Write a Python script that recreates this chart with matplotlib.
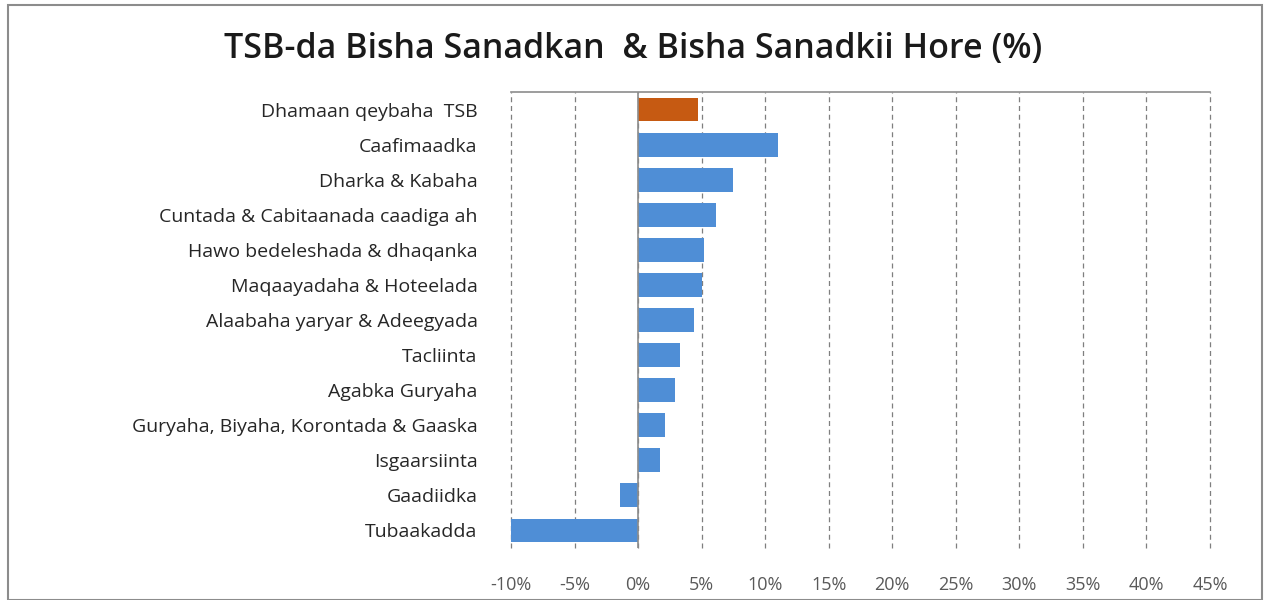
import numpy as np
import matplotlib.pyplot as plt
from matplotlib.patches import Rectangle
from matplotlib.ticker import FuncFormatter

plt.rcParams['font.family'] = ['Open Sans', 'DejaVu Sans']

categories = [
    'Dhamaan qeybaha  TSB',
    'Caafimaadka',
    'Dharka & Kabaha',
    'Cuntada & Cabitaanada caadiga ah',
    'Hawo bedeleshada & dhaqanka',
    'Maqaayadaha & Hoteelada',
    'Alaabaha yaryar & Adeegyada',
    'Tacliinta',
    'Agabka Guryaha',
    'Guryaha, Biyaha, Korontada & Gaaska',
    'Isgaarsiinta',
    'Gaadiidka',
    'Tubaakadda',
]
values = [4.7, 11.0, 7.5, 6.1, 5.2, 5.0, 4.4, 3.3, 2.9, 2.1, 1.7, -1.4, -10.0]
x_ticks = [-10, -5, 0, 5, 10, 15, 20, 25, 30, 35, 40, 45]

blue = '#4F8ED6'
orange = '#C65A12'
colors = [orange] + [blue] * (len(values) - 1)

fig = plt.figure(figsize=(12.67, 6), dpi=100)
fig.patches.append(Rectangle((0.006, 0.0), 0.99, 0.992, transform=fig.transFigure,
                             fill=False, edgecolor='#8c8c8c', linewidth=1.5))

ax = fig.add_axes([0.4033, 0.0867, 0.5517, 0.76])
y = np.arange(len(categories))
ax.barh(y, values, height=0.68, color=colors, zorder=3)
ax.set_ylim(len(categories) - 0.5, -0.5)
ax.set_xlim(-10, 45)
ax.set_xticks(x_ticks)
ax.xaxis.set_major_formatter(FuncFormatter(lambda v, p: f'{v:.0f}%'))
ax.set_yticks(y)
ax.set_yticklabels(categories, fontsize=14, color='#262626')

ax.grid(axis='x', linestyle=(0, (4, 3)), color='#7f7f7f', linewidth=0.9, zorder=0)
for gl in ax.get_xgridlines():
    gl.set_clip_on(False)
for s in ['left', 'right', 'bottom']:
    ax.spines[s].set_visible(False)
ax.spines['top'].set_color('#8c8c8c')
ax.spines['top'].set_linewidth(1.2)
ax.axvline(0, color='#8c8c8c', linewidth=1.2, zorder=4)
ax.tick_params(axis='y', length=0, pad=24)
ax.tick_params(axis='x', length=0, pad=20, labelsize=13, labelcolor='#595959')

fig.text(0.5, 0.918, 'TSB-da Bisha Sanadkan  & Bisha Sanadkii Hore (%)',
         ha='center', va='center', fontsize=24.5, fontweight='semibold', color='#1a1a1a')

fig.savefig('out.png', dpi=100)
